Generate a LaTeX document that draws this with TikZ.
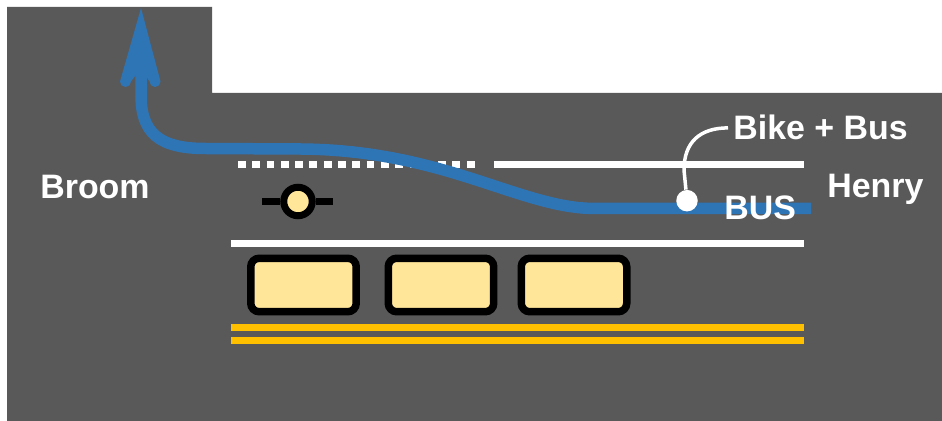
\documentclass[tikz,border=0pt]{standalone}
\usepackage{fontspec}
\setsansfont{Liberation Sans}
\usetikzlibrary{positioning}
\definecolor{croad}{HTML}{595959}
\definecolor{cbus}{HTML}{2E75B6}
\definecolor{ccurb}{HTML}{FFC000}
\definecolor{ccar}{HTML}{FFE699}
\tikzset{
  every picture/.style={font=\sffamily\bfseries},
  lane/.style={draw=white, line width=0.14cm},
  curb/.style={draw=ccurb, line width=0.14cm},
  car/.style={draw=black, fill=ccar, line width=0.15cm, rounded corners=0.17cm, minimum width=2.11cm, minimum height=1.07cm},
  street/.style={text=white, font=\fontsize{19.3}{19.3}\sffamily\bfseries, inner sep=0pt, anchor=base west},
  route/.style={draw=cbus, line width=0.23cm},
}

\begin{document}
\begin{tikzpicture}[x=0.02cm, y=-0.02cm]
  \useasboundingbox (0,0) rectangle (942,421);
  \fill[croad] (7,7) -- (212,7) -- (212,93) -- (942,93) -- (942,421) -- (7,421) -- cycle;
  % lane lines
  \draw[lane, dash pattern=on 0.155cm off 0.131cm] (238,164.3) -- (478,164.3);
  \draw[lane] (494,164.3) -- (804,164.3);
  \draw[lane] (231,243.7) -- (804,243.7);
  \foreach \y in {327.3, 340.3} \draw[curb] (231,\y) -- (804,\y);
  % parked cars
  \foreach \x [count=\i] in {303.5, 441, 574} {
    \node[car] (car\i) at (\x,285) {};
  }
  % signal
  \node[draw=black, fill=ccar, circle, line width=0.14cm, minimum size=0.57cm, inner sep=0pt] (signal) at (298,201.5) {};
  \draw[draw=black, line width=0.14cm] (262,201.5) -- (signal.west);
  \draw[draw=black, line width=0.14cm] (signal.east) -- (333,201.5);
  % bus route
  \coordinate (busstart) at (811,208.5);
  \coordinate (bustip) at (141,8);
  \draw[route] (busstart) -- (595,208.5) .. controls (520,208.5) and (445,150) .. (300,149) -- (205,148.5) .. controls (158,148.5) and (141,132) .. (141,95) -- (141,60);
  \fill[cbus] (bustip) -- (120,81.5) arc[start angle=180, end angle=360, radius=0.11cm] -- (141,68) -- (149.5,81.5) arc[start angle=180, end angle=360, radius=0.11cm] -- cycle;
  % labels
  \node[street] (broom) at (40,199) {Broom};
  \node[street] (henry) at (827,198) {Henry};
  \node[street] (bus) at (724,220) {BUS};
  \node[street] (bikebus) at (733,140) {Bike + Bus};
  \node[fill=white, circle, minimum size=0.43cm, inner sep=0pt] (stop) at (687,200.7) {};
  \draw[draw=white, line width=0.07cm] ([xshift=-0.1cm]bikebus.west) .. controls (700,128) and (684,142) .. (684,170) -- (stop);
\end{tikzpicture}
\end{document}
